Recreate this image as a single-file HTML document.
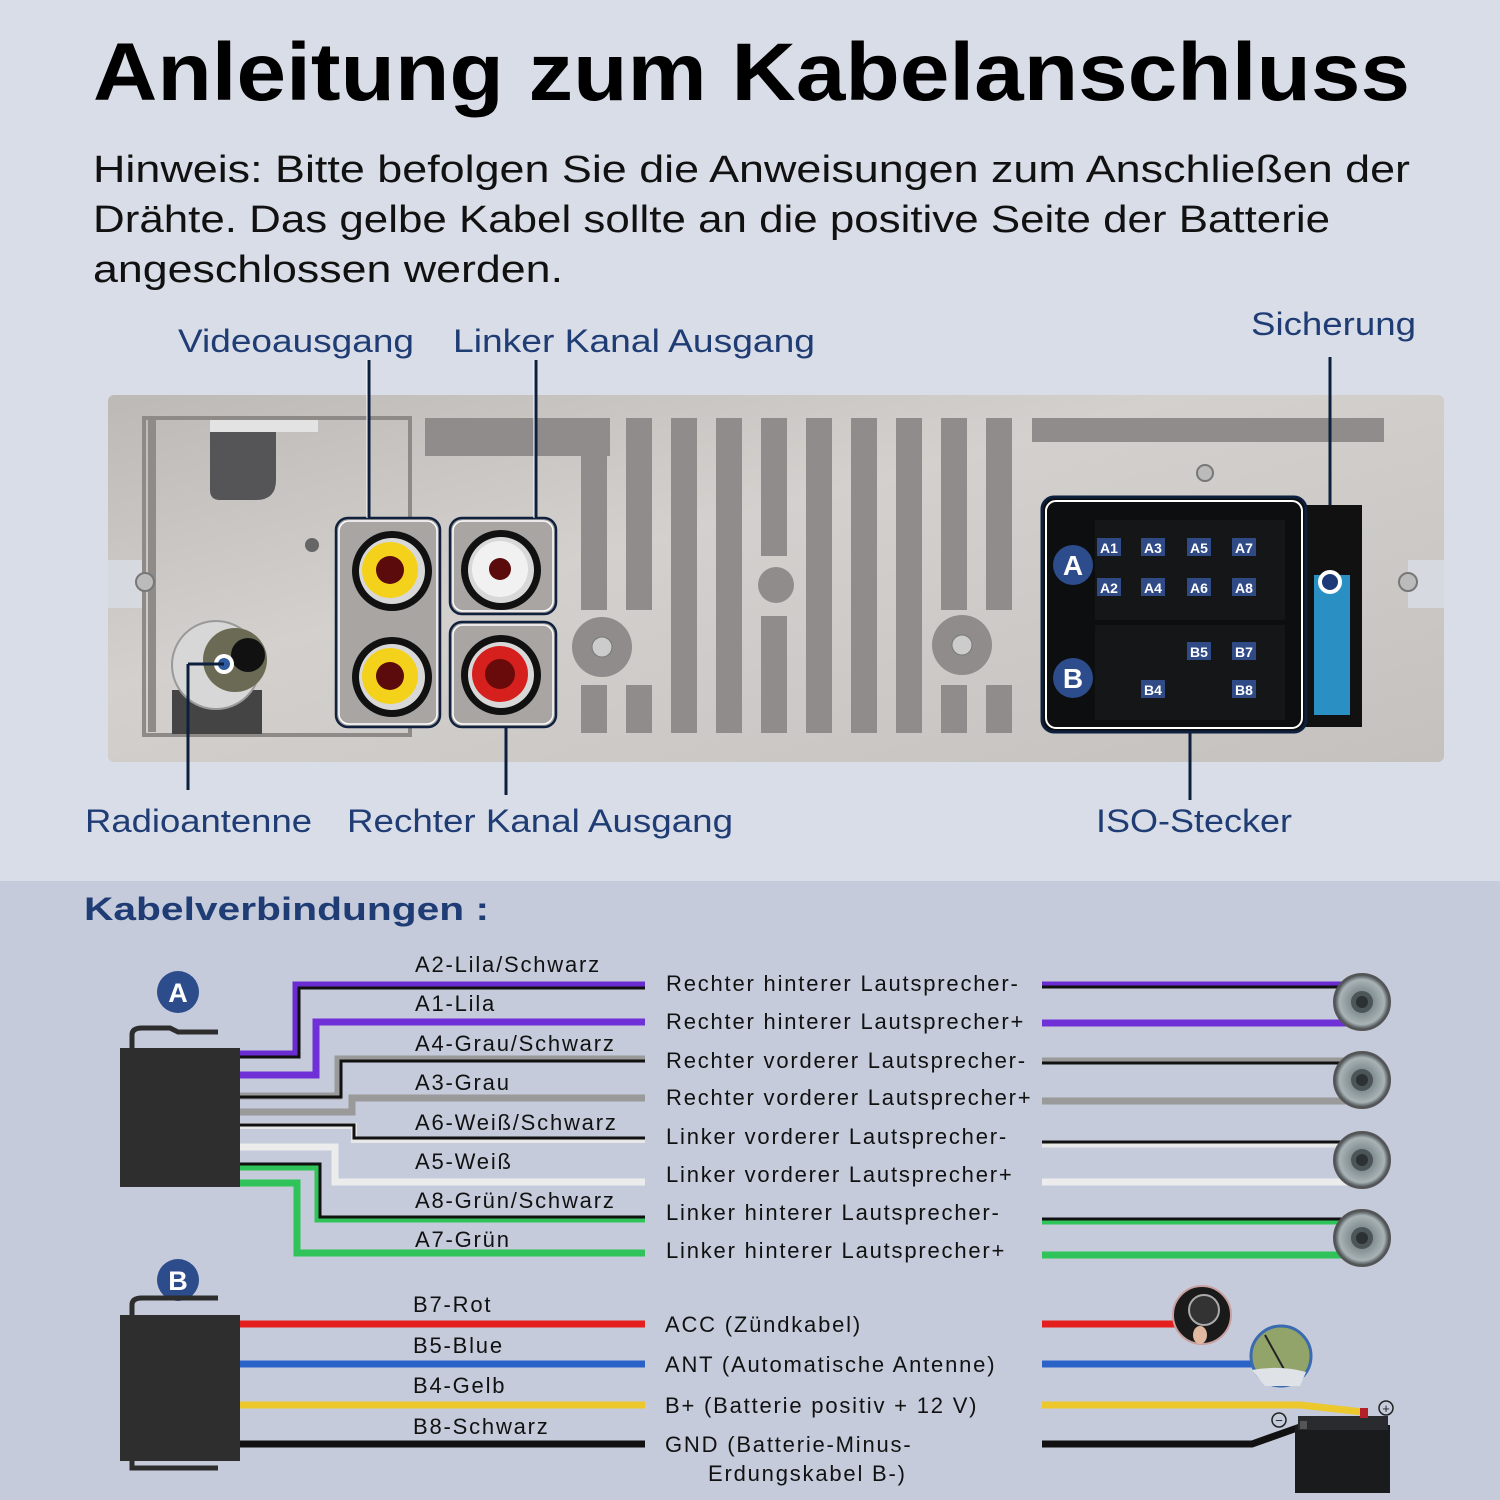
<!DOCTYPE html>
<html><head><meta charset="utf-8"><style>
html,body{margin:0;padding:0;background:#d9dde7}
svg{display:block}
text{font-family:"Liberation Sans",sans-serif}
</style></head><body>
<svg width="1500" height="1500" viewBox="0 0 1500 1500" xmlns="http://www.w3.org/2000/svg">
<defs>
<linearGradient id="pg" x1="0" x2="1" y1="0" y2="1">
<stop offset="0" stop-color="#bdb9b6"/><stop offset="0.4" stop-color="#d3d0cd"/><stop offset="1" stop-color="#c4c1be"/>
</linearGradient>
<radialGradient id="spk"><stop offset="0" stop-color="#3a4042"/><stop offset="0.35" stop-color="#7e8a8e"/><stop offset="0.8" stop-color="#a9b3b6"/><stop offset="1" stop-color="#3a3f42"/></radialGradient>
<g id="sp"><circle r="28" fill="url(#spk)" stroke="#555" stroke-width="2"/><circle r="11" fill="#4c5558"/><circle r="6" fill="#2c3234"/></g>
</defs>
<rect width="1500" height="881" fill="#d9dde7"/>
<rect y="881" width="1500" height="619" fill="#c5cbdb"/>

<text x="93" y="100" font-size="82" font-weight="bold" fill="#000" textLength="1317" lengthAdjust="spacingAndGlyphs">Anleitung zum Kabelanschluss</text>
<g font-size="38" fill="#111">
<text x="93" y="182" textLength="1317" lengthAdjust="spacingAndGlyphs">Hinweis: Bitte befolgen Sie die Anweisungen zum Anschließen der</text>
<text x="93" y="232" textLength="1237" lengthAdjust="spacingAndGlyphs">Drähte. Das gelbe Kabel sollte an die positive Seite der Batterie</text>
<text x="93" y="282" textLength="470" lengthAdjust="spacingAndGlyphs">angeschlossen werden.</text>
</g>
<g font-size="32" fill="#1f3d74">
<text x="178" y="352" textLength="236" lengthAdjust="spacingAndGlyphs">Videoausgang</text>
<text x="453" y="352" textLength="362" lengthAdjust="spacingAndGlyphs">Linker Kanal Ausgang</text>
<text x="1251" y="335" textLength="165" lengthAdjust="spacingAndGlyphs">Sicherung</text>
<text x="85" y="832" textLength="227" lengthAdjust="spacingAndGlyphs">Radioantenne</text>
<text x="347" y="832" textLength="386" lengthAdjust="spacingAndGlyphs">Rechter Kanal Ausgang</text>
<text x="1096" y="832" textLength="196" lengthAdjust="spacingAndGlyphs">ISO-Stecker</text>
</g>

<rect x="108" y="395" width="1336" height="367" rx="6" fill="url(#pg)"/>
<rect x="108" y="560" width="36" height="48" fill="#d6d9df"/>
<rect x="1408" y="560" width="36" height="48" fill="#d6d9df"/>
<path d="M144 418 H410 V735 H144 Z" fill="none" stroke="#8d8a88" stroke-width="4"/>
<rect x="148" y="420" width="8" height="312" fill="#8e8b89"/>
<rect x="210" y="420" width="108" height="12" fill="#e3e3e3"/>
<path d="M210 432 H276 V480 Q276 500 256 500 H220 Q210 500 210 490 Z" fill="#555456"/>
<rect x="425" y="418" width="185" height="38" fill="#8f8c8b"/>
<rect x="1032" y="418" width="352" height="24" fill="#8f8c8b"/>
<circle cx="145" cy="582" r="9" fill="#bbb" stroke="#777" stroke-width="2"/>
<circle cx="1408" cy="582" r="9" fill="#bbb" stroke="#777" stroke-width="2"/>
<circle cx="1205" cy="473" r="8" fill="#bbb" stroke="#777" stroke-width="2"/>
<circle cx="312" cy="545" r="7" fill="#666"/>
<g fill="#8f8c8b">
<rect x="581" y="418" width="26" height="192"/><rect x="581" y="685" width="26" height="48"/>
<rect x="626" y="418" width="26" height="192"/><rect x="626" y="685" width="26" height="48"/>
<rect x="671" y="418" width="26" height="315"/><rect x="716" y="418" width="26" height="315"/>
<rect x="761" y="418" width="26" height="138"/><rect x="761" y="616" width="26" height="117"/>
<rect x="806" y="418" width="26" height="315"/><rect x="851" y="418" width="26" height="315"/><rect x="896" y="418" width="26" height="315"/>
<rect x="941" y="418" width="26" height="192"/><rect x="941" y="685" width="26" height="48"/>
<rect x="986" y="418" width="26" height="192"/><rect x="986" y="685" width="26" height="48"/>
<circle cx="776" cy="585" r="18"/>
<circle cx="602" cy="647" r="30"/><circle cx="962" cy="645" r="30"/>
</g>
<circle cx="602" cy="647" r="10" fill="#ccc" stroke="#777"/><circle cx="962" cy="645" r="10" fill="#ccc" stroke="#777"/>
<rect x="172" y="690" width="90" height="44" fill="#444"/>
<circle cx="216" cy="665" r="44" fill="#d7d7d7" stroke="#999" stroke-width="2"/>
<circle cx="235" cy="660" r="32" fill="#6b6b55"/>
<circle cx="248" cy="655" r="17" fill="#111"/>
<circle cx="224" cy="664" r="10" fill="#fff"/><circle cx="224" cy="664" r="6" fill="#2e5aa0"/>
<path d="M188 664 H224 M188 664 V790" stroke="#0c1f3d" stroke-width="3" fill="none"/>
<g fill="none" stroke="#0f213d" stroke-width="2.5">
<rect x="336" y="518" width="104" height="209" rx="12" fill="#a8a5a3"/>
<rect x="450" y="518" width="106" height="96" rx="12" fill="#a8a5a3"/>
<rect x="450" y="622" width="106" height="105" rx="12" fill="#a8a5a3"/>
</g>
<g fill="none" stroke="#fff" stroke-width="1.5">
<rect x="339" y="521" width="98" height="203" rx="10"/><rect x="453" y="521" width="100" height="90" rx="10"/><rect x="453" y="625" width="100" height="99" rx="10"/>
</g>
<g>
<circle cx="392" cy="571" r="40" fill="#111"/><circle cx="392" cy="571" r="33" fill="#d8d8d8"/><circle cx="390" cy="570" r="28" fill="#f4d21c"/><circle cx="390" cy="570" r="14" fill="#5b0b0b"/>
<circle cx="392" cy="677" r="40" fill="#111"/><circle cx="392" cy="677" r="33" fill="#d8d8d8"/><circle cx="390" cy="676" r="28" fill="#f4d21c"/><circle cx="390" cy="676" r="14" fill="#5b0b0b"/>
<circle cx="501" cy="570" r="40" fill="#111"/><circle cx="501" cy="570" r="33" fill="#d8d8d8"/><circle cx="500" cy="569" r="28" fill="#f1f1f1"/><circle cx="500" cy="569" r="11" fill="#5b0b0b"/>
<circle cx="501" cy="675" r="40" fill="#111"/><circle cx="501" cy="675" r="33" fill="#d8d8d8"/><circle cx="500" cy="674" r="28" fill="#d6201d"/><circle cx="500" cy="674" r="15" fill="#6a0b0b"/>
</g>
<g stroke="#0c1f3d" stroke-width="3"><line x1="369" y1="360" x2="369" y2="518"/><line x1="536" y1="360" x2="536" y2="518"/><line x1="506" y1="727" x2="506" y2="795"/><line x1="1190" y1="732" x2="1190" y2="800"/><line x1="1330" y1="357" x2="1330" y2="574"/></g>
<g stroke="#fff" stroke-width="1"><line x1="367" y1="360" x2="367" y2="518"/><line x1="534" y1="360" x2="534" y2="518"/></g>
<rect x="1300" y="505" width="62" height="222" fill="#111"/>
<rect x="1314" y="575" width="36" height="140" fill="#2a8fc2"/>
<circle cx="1330" cy="582" r="12" fill="#fff"/><circle cx="1330" cy="582" r="8" fill="#1c3a78"/>
<rect x="1042" y="497" width="264" height="235" rx="12" fill="#0d0e10" stroke="#0c1f3d" stroke-width="3"/>
<rect x="1046" y="501" width="256" height="227" rx="10" fill="none" stroke="#fff" stroke-width="2"/>
<rect x="1095" y="520" width="190" height="100" fill="#151618"/>
<rect x="1095" y="625" width="190" height="95" fill="#151618"/>
<g fill="#2c4c8c"><circle cx="1073" cy="565" r="20"/><circle cx="1073" cy="678" r="20"/></g>
<g fill="#fff" font-weight="bold" font-size="28" text-anchor="middle"><text x="1073" y="575">A</text><text x="1073" y="688">B</text></g>
<g font-size="14" font-weight="bold" fill="#fff">
<g fill="#2f4a85"><rect x="1097" y="538" width="24" height="18"/><rect x="1141" y="538" width="24" height="18"/><rect x="1187" y="538" width="24" height="18"/><rect x="1232" y="538" width="24" height="18"/><rect x="1097" y="578" width="24" height="18"/><rect x="1141" y="578" width="24" height="18"/><rect x="1187" y="578" width="24" height="18"/><rect x="1232" y="578" width="24" height="18"/><rect x="1187" y="642" width="24" height="18"/><rect x="1232" y="642" width="24" height="18"/><rect x="1141" y="680" width="24" height="18"/><rect x="1232" y="680" width="24" height="18"/></g>
<text x="1100" y="553">A1</text><text x="1144" y="553">A3</text><text x="1190" y="553">A5</text><text x="1235" y="553">A7</text>
<text x="1100" y="593">A2</text><text x="1144" y="593">A4</text><text x="1190" y="593">A6</text><text x="1235" y="593">A8</text>
<text x="1190" y="657">B5</text><text x="1235" y="657">B7</text><text x="1144" y="695">B4</text><text x="1235" y="695">B8</text>
</g>

<text x="84" y="920" font-size="32" font-weight="bold" fill="#1f3d74" textLength="405" lengthAdjust="spacingAndGlyphs">Kabelverbindungen :</text>

<circle cx="178" cy="992" r="21" fill="#2c4c8c"/><text x="178" y="1002" font-size="27" font-weight="bold" fill="#fff" text-anchor="middle">A</text>
<circle cx="178" cy="1280" r="21" fill="#2c4c8c"/><text x="178" y="1290" font-size="27" font-weight="bold" fill="#fff" text-anchor="middle">B</text>
<path d="M132 1050 V1035 Q132 1028 142 1028 H170 L178 1032 H218" stroke="#2d2d2d" stroke-width="5" fill="none"/>
<rect x="120" y="1048" width="120" height="139" fill="#2e2e2e"/>
<path d="M132 1318 V1305 Q132 1298 142 1298 H218" stroke="#2d2d2d" stroke-width="5" fill="none"/>
<path d="M132 1458 V1468 H218" stroke="#2d2d2d" stroke-width="5" fill="none"/>
<rect x="120" y="1315" width="120" height="146" fill="#2e2e2e"/>

<g fill="none" stroke-linejoin="miter">
<path d="M240 1054 H296 V985 H645" stroke="#6a2bd0" stroke-width="7"/>
<path d="M240 1057 H299 V988 H645" stroke="#111" stroke-width="3"/>
<path d="M240 1075 H316 V1022 H645" stroke="#7030d8" stroke-width="7"/>
<path d="M240 1096 H338 V1059 H645" stroke="#9a9a9a" stroke-width="7"/>
<path d="M240 1097 H341 V1061 H645" stroke="#111" stroke-width="3"/>
<path d="M240 1112 H352 V1098 H645" stroke="#9a9a9a" stroke-width="7"/>
<path d="M240 1126 H354 V1140 H645" stroke="#e8e8e8" stroke-width="6"/>
<path d="M240 1125 H354 V1138 H645" stroke="#111" stroke-width="3"/>
<path d="M240 1147 H335 V1182 H645" stroke="#ececec" stroke-width="7"/>
<path d="M240 1167 H318 V1219 H645" stroke="#2fc35a" stroke-width="7"/>
<path d="M240 1164 H320 V1217 H645" stroke="#111" stroke-width="3"/>
<path d="M240 1183 H297 V1253 H645" stroke="#2fc35a" stroke-width="7"/>
<path d="M240 1324 H645" stroke="#e4201e" stroke-width="7"/>
<path d="M240 1364 H645" stroke="#2a62c8" stroke-width="7"/>
<path d="M240 1405 H645" stroke="#ecc82c" stroke-width="7"/>
<path d="M240 1444 H645" stroke="#111" stroke-width="7"/>
<path d="M1042 985 H1345" stroke="#6a2bd0" stroke-width="7"/><path d="M1042 987 H1345" stroke="#111" stroke-width="3"/>
<path d="M1042 1023 H1350" stroke="#7030d8" stroke-width="7"/>
<path d="M1042 1061 H1345" stroke="#9a9a9a" stroke-width="7"/><path d="M1042 1063 H1345" stroke="#111" stroke-width="3"/>
<path d="M1042 1101 H1350" stroke="#9a9a9a" stroke-width="7"/>
<path d="M1042 1144 H1345" stroke="#e8e8e8" stroke-width="7"/><path d="M1042 1142 H1345" stroke="#111" stroke-width="3"/>
<path d="M1042 1182 H1350" stroke="#ececec" stroke-width="7"/>
<path d="M1042 1221 H1345" stroke="#2fc35a" stroke-width="7"/><path d="M1042 1219 H1345" stroke="#111" stroke-width="3"/>
<path d="M1042 1255 H1350" stroke="#2fc35a" stroke-width="7"/>
<path d="M1042 1324 H1180" stroke="#e4201e" stroke-width="7"/>
<path d="M1042 1364 H1255" stroke="#2a62c8" stroke-width="7"/>
<path d="M1042 1405 H1300 L1363 1412" stroke="#ecc82c" stroke-width="7"/>
<path d="M1042 1444 H1252 L1300 1427" stroke="#111" stroke-width="7"/>
</g>
<use href="#sp" x="1362" y="1002"/><use href="#sp" x="1362" y="1080"/><use href="#sp" x="1362" y="1160"/><use href="#sp" x="1362" y="1238"/>
<circle cx="1202" cy="1315" r="29" fill="#1a1a1a" stroke="#c9a0a0" stroke-width="2"/>
<circle cx="1204" cy="1310" r="15" fill="#333" stroke="#aaa" stroke-width="2"/>
<ellipse cx="1200" cy="1335" rx="7" ry="9" fill="#e0b9a0"/>
<circle cx="1281" cy="1356" r="30" fill="#93a46a" stroke="#3a6ab0" stroke-width="3"/>
<path d="M1265 1335 L1290 1380" stroke="#222" stroke-width="2"/>
<path d="M1252 1370 Q1280 1365 1306 1372 L1300 1386 H1265 Z" fill="#dfe3e8"/>
<rect x="1295" y="1425" width="95" height="68" fill="#1a1b1d"/>
<rect x="1298" y="1416" width="90" height="14" fill="#2a2b2e"/>
<rect x="1360" y="1408" width="8" height="10" fill="#b3202a"/>
<rect x="1300" y="1421" width="7" height="8" fill="#555"/>
<g fill="none" stroke="#222" stroke-width="1.5"><circle cx="1279" cy="1420" r="7"/><circle cx="1386" cy="1408" r="7"/></g>
<g font-size="13" fill="#222" text-anchor="middle"><text x="1279" y="1425">−</text><text x="1386" y="1413">+</text></g>

<g font-size="22" fill="#111" letter-spacing="1.8">
<text x="415" y="972">A2-Lila/Schwarz</text>
<text x="415" y="1011">A1-Lila</text>
<text x="415" y="1051">A4-Grau/Schwarz</text>
<text x="415" y="1090">A3-Grau</text>
<text x="415" y="1130">A6-Weiß/Schwarz</text>
<text x="415" y="1169">A5-Weiß</text>
<text x="415" y="1208">A8-Grün/Schwarz</text>
<text x="415" y="1247">A7-Grün</text>
<text x="413" y="1312">B7-Rot</text>
<text x="413" y="1353">B5-Blue</text>
<text x="413" y="1393">B4-Gelb</text>
<text x="413" y="1434">B8-Schwarz</text>
<text x="666" y="991">Rechter hinterer Lautsprecher-</text>
<text x="666" y="1029">Rechter hinterer Lautsprecher+</text>
<text x="666" y="1068">Rechter vorderer Lautsprecher-</text>
<text x="666" y="1105">Rechter vorderer Lautsprecher+</text>
<text x="666" y="1144">Linker vorderer Lautsprecher-</text>
<text x="666" y="1182">Linker vorderer Lautsprecher+</text>
<text x="666" y="1220">Linker hinterer Lautsprecher-</text>
<text x="666" y="1258">Linker hinterer Lautsprecher+</text>
<text x="665" y="1332">ACC (Zündkabel)</text>
<text x="665" y="1372">ANT (Automatische Antenne)</text>
<text x="665" y="1413">B+ (Batterie positiv + 12 V)</text>
<text x="665" y="1452">GND (Batterie-Minus-</text>
<text x="708" y="1481">Erdungskabel B-)</text>
</g>
</svg>
</body></html>
